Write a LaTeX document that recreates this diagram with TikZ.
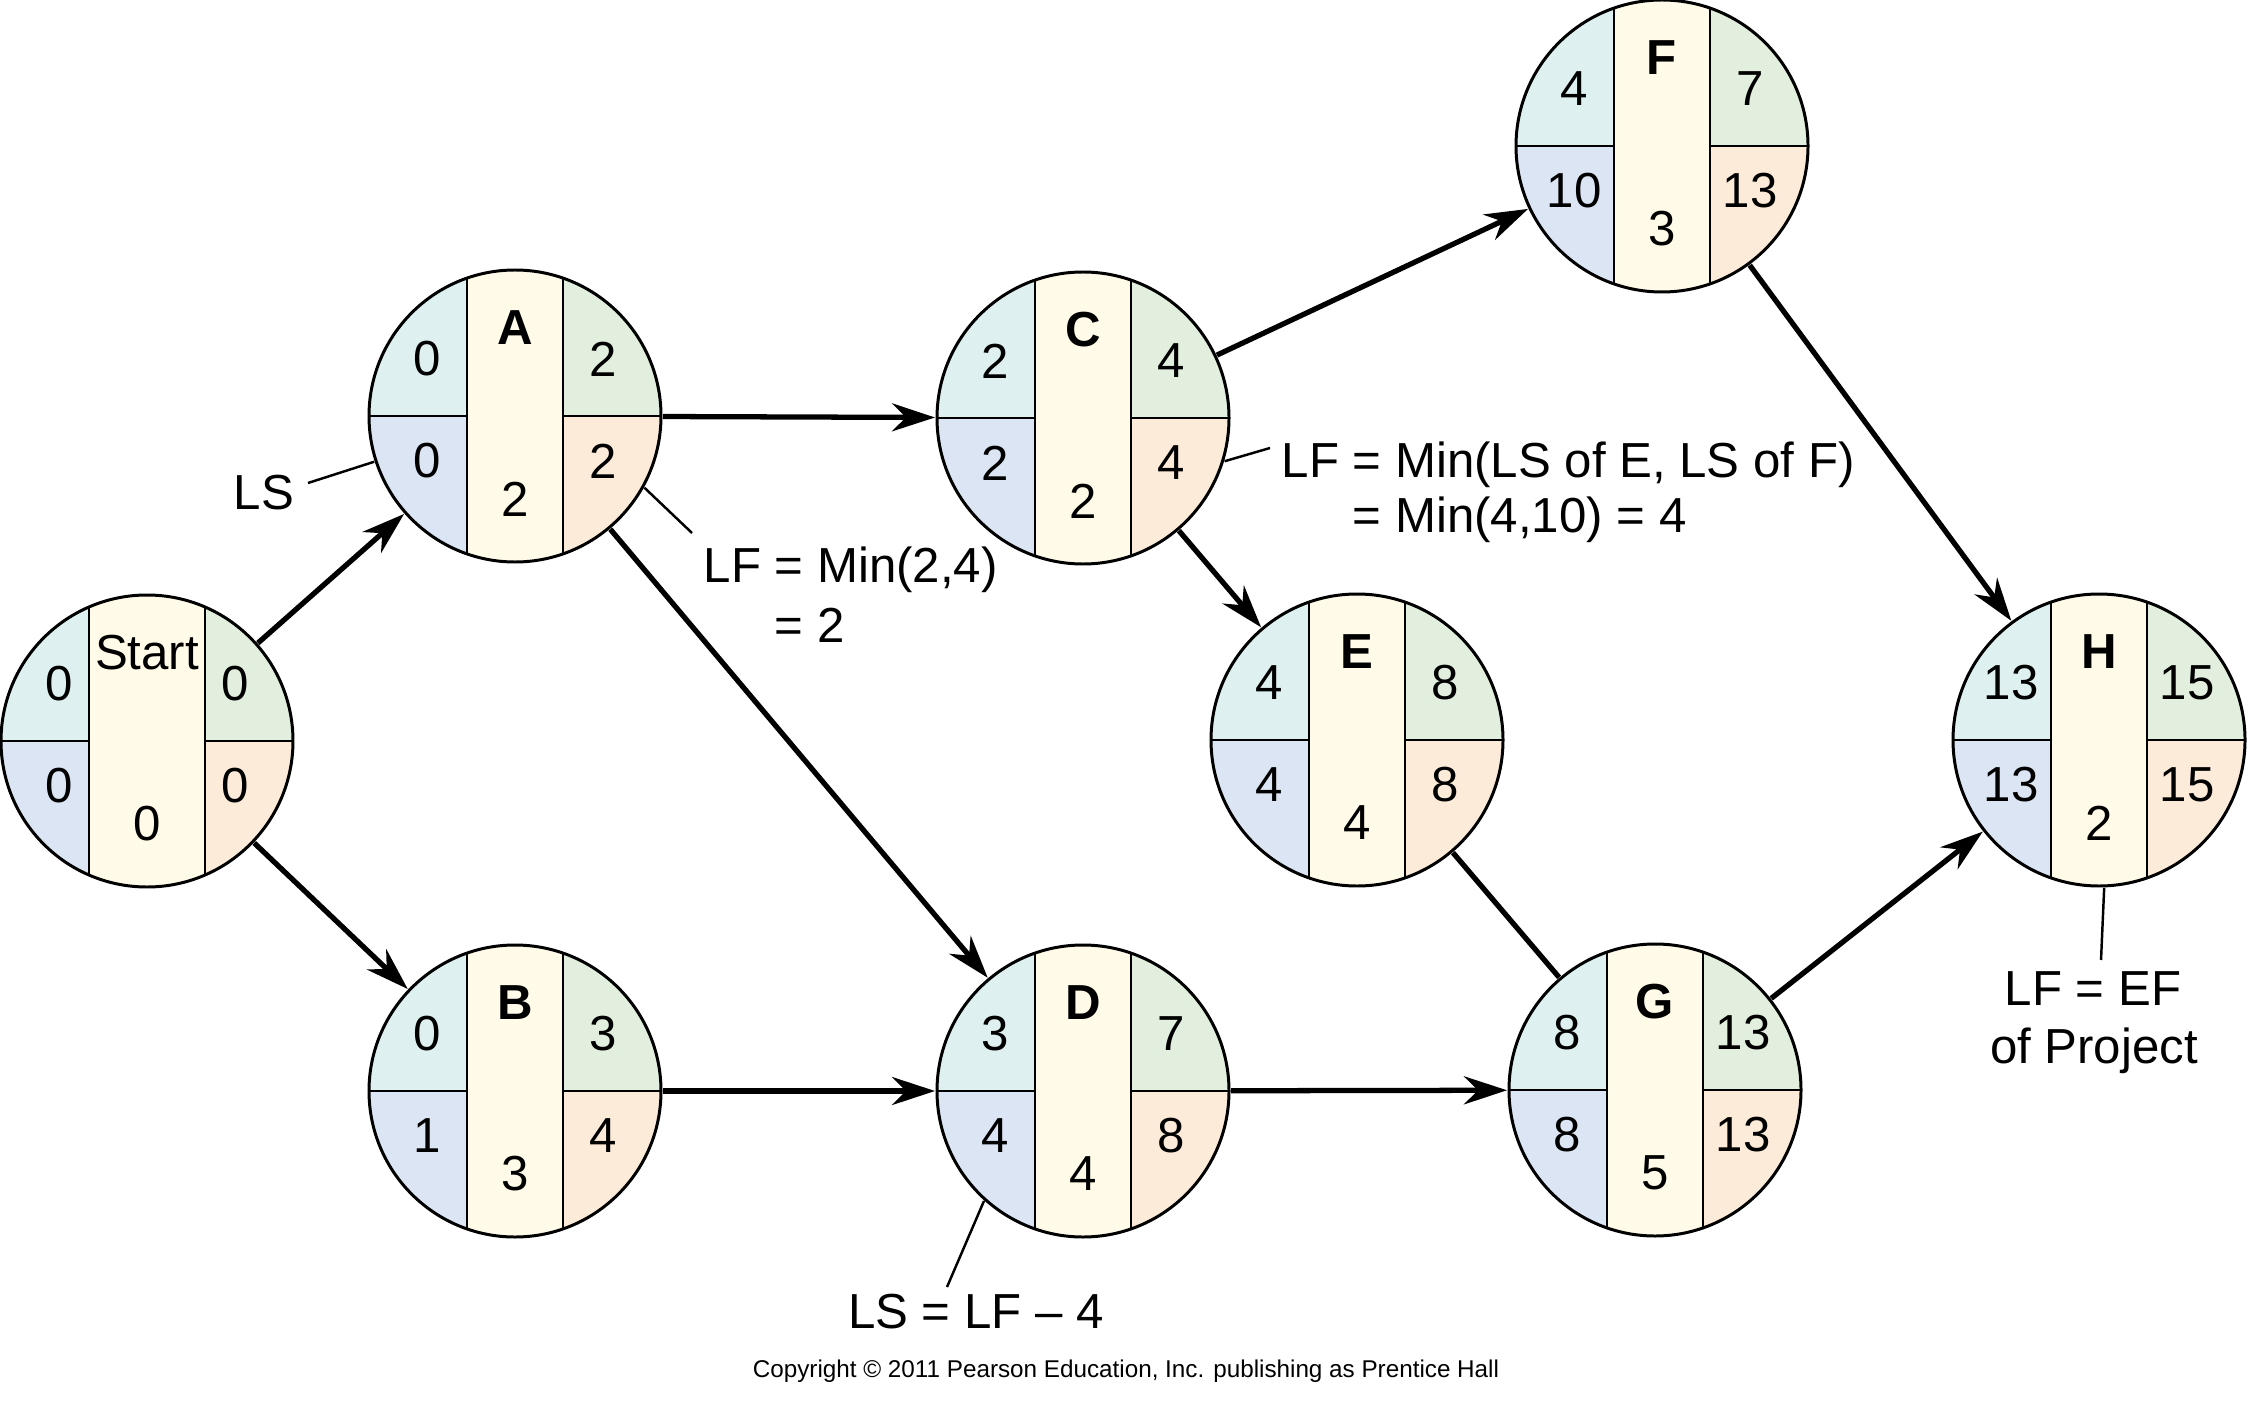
\documentclass[tikz,border=0pt]{standalone}
\usepackage{fontspec}
\setmainfont{Liberation Sans}
\usetikzlibrary{arrows.meta}
\definecolor{cES}{HTML}{DFF0F0}
\definecolor{cLS}{HTML}{DCE5F4}
\definecolor{cEF}{HTML}{E2EFDE}
\definecolor{cLF}{HTML}{FDEBDA}
\definecolor{cMid}{HTML}{FFFBE8}
\tikzset{
  pcirc/.style={circle, inner sep=0pt, outer sep=0.2mm, minimum size=29.2mm},
  num/.style={font=\fontsize{14}{16}\selectfont, inner sep=0pt},
  ann/.style={font=\fontsize{14}{16}\selectfont, inner sep=0pt},
  small/.style={font=\fontsize{6.9}{8}\selectfont, inner sep=0pt},
  arr/.style={line width=1.5pt, -{Stealth[length=4.3mm,width=2.8mm,inset=1.4mm]}},
  link/.style={line width=1.5pt},
  leader/.style={line width=0.7pt},
  rim/.style={line width=0.85pt},
  divider/.style={line width=0.75pt},
}
\newcommand\stripw{48}
% name, x, y, label, ES, EF, LS, LF, duration
\newcommand\pertnode[9]{%
  \node[pcirc] (#1) at (#2,#3) {};
  \begin{scope}[shift={(#2,#3)}]
    \begin{scope}
      \clip (0,0) circle[radius=14.6mm];
      \fill[cES] (-160,-160) rectangle (-\stripw,0);
      \fill[cLS] (-160,0) rectangle (-\stripw,160);
      \fill[cEF] (\stripw,-160) rectangle (160,0);
      \fill[cLF] (\stripw,0) rectangle (160,160);
      \fill[cMid] (-\stripw,-160) rectangle (\stripw,160);
      \draw[divider] (-\stripw,-160) -- (-\stripw,160);
      \draw[divider] (\stripw,-160) -- (\stripw,160);
      \draw[divider] (-160,0) -- (-\stripw,0);
      \draw[divider] (\stripw,0) -- (160,0);
    \end{scope}
    \draw[rim] (0,0) circle[radius=14.6mm];
    \node[num] (#1lab) at (0,-88) {#4};
    \node[num] (#1es) at (-88,-57) {#5};
    \node[num] (#1ef) at (88,-57) {#6};
    \node[num] (#1ls) at (-88,45) {#7};
    \node[num] (#1lf) at (88,45) {#8};
    \node[num] (#1dur) at (0,83) {#9};
  \end{scope}
}
\begin{document}
\begin{tikzpicture}[x=0.1mm, y=-0.1mm]
\useasboundingbox (0,0) rectangle (2250,1402);

\renewcommand\stripw{58}
\pertnode{S}{147}{741}{Start}{0}{0}{0}{0}{0}
\renewcommand\stripw{48}
\pertnode{A}{515}{416}{\textbf{A}}{0}{2}{0}{2}{2}
\pertnode{B}{515}{1091}{\textbf{B}}{0}{3}{1}{4}{3}
\pertnode{C}{1083}{418}{\textbf{C}}{2}{4}{2}{4}{2}
\pertnode{D}{1083}{1091}{\textbf{D}}{3}{7}{4}{8}{4}
\pertnode{E}{1357}{740}{\textbf{E}}{4}{8}{4}{8}{4}
\pertnode{F}{1662}{146}{\textbf{F}}{4}{7}{10}{13}{3}
\pertnode{G}{1655}{1090}{\textbf{G}}{8}{13}{8}{13}{5}
\pertnode{H}{2099}{740}{\textbf{H}}{13}{15}{13}{15}{2}

% connectors
\draw[arr] (S) -- (A);
\draw[arr] (S) -- (B);
\draw[arr] (A) -- (C);
\draw[arr] (A) -- (D);
\draw[arr] (B) -- (D);
\draw[arr] (C) -- (F);
\draw[arr] (C) -- (E);
\draw[arr] (D) -- (G);
\draw[link] (E) -- (G);
\draw[arr] (G) -- (H);
\draw[arr] (F) -- (H);

% annotations
\node[ann, anchor=base west] (lsTxt) at (233,509) {LS};
\coordinate (lsEnd) at (308,483);
\draw[leader] (A.198) -- (lsEnd);

\node[ann, anchor=base west] (lfA1) at (703,582) {LF = Min(2,4)};
\node[ann, anchor=base west] (lfA2) at (703,642) {\phantom{LF }= 2};
\coordinate (lfAEnd) at (692,533);
\draw[leader] (A.-29) -- (lfAEnd);

\node[ann, anchor=base west] (lfC1) at (1281,477) {LF = Min(LS of E, LS of F)};
\node[ann, anchor=base west] (lfC2) at (1281,532) {\phantom{LF }= Min(4,10) = 4};
\coordinate (lfCEnd) at (1270,448);
\draw[leader] (C.-17) -- (lfCEnd);

\node[ann, anchor=base] (lsD) at (976,1328) {LS = LF – 4};
\coordinate (lsDEnd) at (947,1287);
\draw[leader] (D.-132) -- (lsDEnd);

\node[ann, anchor=base] (lfH1) at (2093,1005) {LF = EF};
\node[ann, anchor=base] (lfH2) at (2094,1063) {of Project};
\coordinate (lfHEnd) at (2101,960);
\draw[leader] (H.-88) -- (lfHEnd);

\node[small, anchor=base] (copy) at (1126,1377) {Copyright © 2011 Pearson Education, Inc. publishing as Prentice Hall};
\end{tikzpicture}
\end{document}
